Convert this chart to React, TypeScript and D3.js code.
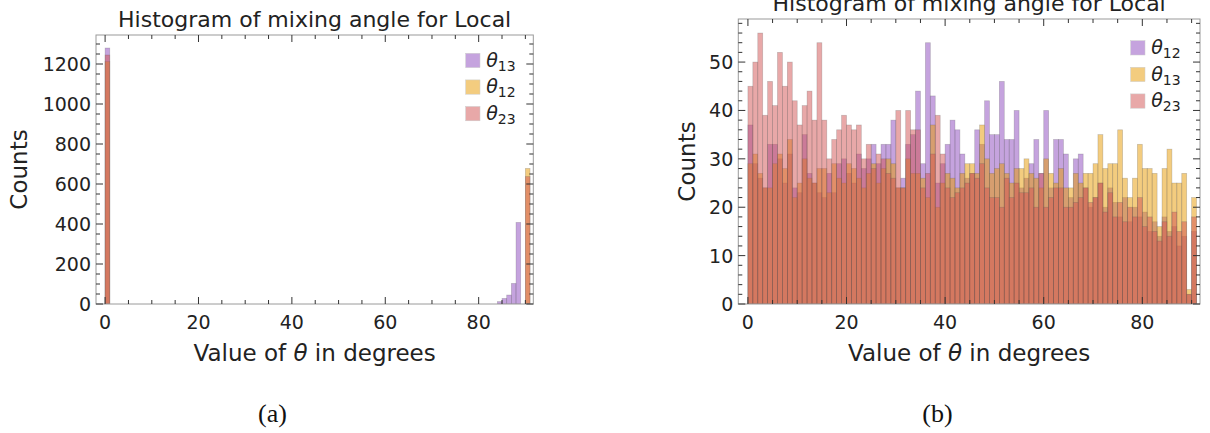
import React from "react";
import * as d3 from "d3";

// ---------- data ----------
const BIN_STARTS = d3.range(0, 91); // histogram bins [k, k+1) degrees

// (a) left chart: sparse bins
const leftTheta13Bins = [0, 84, 85, 86, 87, 88];
const leftTheta13Counts = [1280, 12, 28, 45, 103, 408];
const leftTheta12Bins = [0, 90];
const leftTheta12Counts = [1212, 678];
const leftTheta23Bins = [0, 90];
const leftTheta23Counts = [1245, 637];

// (b) right chart: counts per bin 0..90
const rightTheta12 = [
  37, 29, 26, 24, 33, 33, 30, 25, 31, 24, 23, 35, 27, 25, 23,
  22, 27, 23, 29, 30, 27, 25, 31, 28, 30, 33, 29, 33, 33, 38,
  24, 26, 33, 35, 44, 29, 54, 43, 25, 29, 33, 38, 36, 31, 26, 27, 36, 33, 42, 35, 35, 46, 34, 34, 40, 24, 26, 29, 34, 27, 40,
  24, 34, 34, 31, 22, 30, 31, 24, 20, 22, 25, 20, 24, 21, 18, 22, 17, 20, 18, 19, 15, 17, 14, 18, 15, 16, 12, 14, 2, 15,
];
const rightTheta13 = [
  29, 31, 27, 24, 24, 29, 31, 28, 34, 22, 25, 30, 26, 25, 28,
  28, 23, 29, 26, 25, 29, 28, 26, 24, 27, 29, 25, 28, 30, 29,
  24, 24, 30, 27, 27, 26, 22, 37, 20, 25, 27, 26, 24, 27, 29, 29, 27, 37, 30, 27, 28, 29, 27, 25, 28, 28, 30, 27, 26, 24, 30,
  27, 25, 28, 24, 24, 27, 25, 27, 27, 29, 35, 28, 29, 29, 36, 26, 22, 26, 33, 28, 28, 27, 16, 28, 32, 25, 25, 27, 3, 22,
];
const rightTheta23 = [
  45, 50, 56, 39, 46, 41, 52, 45, 50, 42, 37, 41, 44, 38, 54,
  38, 30, 34, 36, 39, 37, 36, 37, 30, 33, 28, 31, 30, 27, 26,
  40, 24, 40, 36, 36, 24, 27, 31, 39, 31, 24, 22, 23, 24, 25, 27, 26, 29, 24, 22, 22, 20, 26, 22, 25, 23, 23, 24, 20, 27, 20,
  22, 24, 24, 20, 20, 21, 22, 24, 21, 22, 25, 19, 23, 18, 21, 17, 20, 18, 22, 16, 18, 15, 13, 17, 14, 19, 15, 17, 2, 18,
];

const leftLabels = ["13", "12", "23"];
const rightLabels = ["12", "13", "23"];
const xTicks = [0, 20, 40, 60, 80];
const leftYTicks = [0, 200, 400, 600, 800, 1000, 1200];
const rightYTicks = [0, 10, 20, 30, 40, 50];

// ---------- styles ----------
const COLORS = ["#8b47bd", "#e79900", "#d15151"];
const FILL_OPACITY = 0.5;
const FONT = "'DejaVu Sans', sans-serif";
const TEXT = "#222";

function sparseToDense(bins: number[], counts: number[]) {
  const m = new Map<number, number>();
  bins.forEach((b, i) => m.set(b, counts[i]));
  return BIN_STARTS.map((b) => m.get(b) ?? 0);
}

type PanelProps = {
  left: number;
  right: number;
  top: number;
  bottom: number;
  yMax: number;
  yTicks: number[];
  yMinorStep: number;
  series: number[][];
  labels: string[];
  legendX: number;
  legendY: number;
  titleY: number;
  countsX: number;
  clipId: string;
};

function Panel(p: PanelProps) {
  const x = d3.scaleLinear().domain([-1.95, 91.7]).range([p.left, p.right]);
  const y = d3.scaleLinear().domain([0, p.yMax]).range([p.bottom, p.top]);
  const xMinor = d3.range(0, 91, 5);
  const yMinor = d3.range(0, p.yMax, p.yMinorStep);
  const MAJ = 7;
  const MIN = 4;
  const tickColor = "#333";
  const cx = (p.left + p.right) / 2;
  const cy = (p.top + p.bottom) / 2;
  return (
    <g>
      <clipPath id={p.clipId}>
        <rect x={p.left} y={p.top} width={p.right - p.left} height={p.bottom - p.top} />
      </clipPath>
      <g clipPath={`url(#${p.clipId})`}>
        {p.series.map((vals, si) => (
          <g key={si}>
            {BIN_STARTS.map((b, i) =>
              vals[i] > 0 ? (
                <rect
                  key={i}
                  x={x(b)}
                  y={y(vals[i])}
                  width={x(b + 1) - x(b)}
                  height={y(0) - y(vals[i])}
                  fill={COLORS[si]}
                  fillOpacity={FILL_OPACITY}
                  stroke="#5a5a5a"
                  strokeOpacity={0.3}
                  strokeWidth={0.7}
                />
              ) : null
            )}
          </g>
        ))}
      </g>
      {/* frame */}
      <rect
        x={p.left}
        y={p.top}
        width={p.right - p.left}
        height={p.bottom - p.top}
        fill="none"
        stroke="#9a9a9a"
        strokeWidth={1}
      />
      {xMinor.map((t) => {
        const len = t % 20 === 0 ? MAJ : MIN;
        return (
          <g key={"x" + t} stroke={tickColor} strokeWidth={1}>
            <line x1={x(t)} x2={x(t)} y1={p.bottom} y2={p.bottom - len} />
            <line x1={x(t)} x2={x(t)} y1={p.top} y2={p.top + len} />
          </g>
        );
      })}
      {yMinor.map((t) => {
        const major = p.yTicks.includes(t);
        const len = major ? MAJ : MIN;
        return (
          <g key={"y" + t} stroke={tickColor} strokeWidth={1}>
            <line x1={p.left} x2={p.left + len} y1={y(t)} y2={y(t)} />
            <line x1={p.right} x2={p.right - len} y1={y(t)} y2={y(t)} />
          </g>
        );
      })}
      {xTicks.map((t) => (
        <text key={"xl" + t} x={x(t)} y={p.bottom + 24.5} textAnchor="middle" fontSize={19} fill={TEXT} fontFamily={FONT}>
          {t}
        </text>
      ))}
      {p.yTicks.map((t) => (
        <text key={"yl" + t} x={p.left - 5} y={y(t) + 7} textAnchor="end" fontSize={19} fill={TEXT} fontFamily={FONT}>
          {t}
        </text>
      ))}
      <text x={cx} y={361} textAnchor="middle" fontSize={23} fill={TEXT} fontFamily={FONT}>
        Value of <tspan fontStyle="italic">θ</tspan> in degrees
      </text>
      <text
        transform={`translate(${p.countsX},${cy}) rotate(-90)`}
        textAnchor="middle"
        fontSize={23}
        fill={TEXT}
        fontFamily={FONT}
        dominantBaseline="central"
      >
        Counts
      </text>
      <text x={cx} y={p.titleY} textAnchor="middle" fontSize={22} fill={TEXT} fontFamily={FONT}>
        Histogram of mixing angle for Local
      </text>
      {p.labels.map((lab, i) => {
        const ry = p.legendY + i * 26.6;
        return (
          <g key={"lg" + i}>
            <rect x={p.legendX} y={ry - 7.2} width={14.3} height={14.3} fill={COLORS[i]} fillOpacity={FILL_OPACITY} stroke="#ccc" strokeWidth={0.5} />
            <text x={p.legendX + 20.5} y={ry + 6} fontSize={19} fill={TEXT} fontFamily={FONT}>
              <tspan fontStyle="italic">θ</tspan>
              <tspan fontSize={14} dy={4}>{lab}</tspan>
            </text>
          </g>
        );
      })}
    </g>
  );
}

export default function App() {
  const leftSeries = [
    sparseToDense(leftTheta13Bins, leftTheta13Counts),
    sparseToDense(leftTheta12Bins, leftTheta12Counts),
    sparseToDense(leftTheta23Bins, leftTheta23Counts),
  ];
  const rightSeries = [rightTheta12, rightTheta13, rightTheta23];
  return (
    <svg width={1210} height={433} style={{ position: "absolute", left: 0, top: 0, background: "#fff" }}>
      <rect x={0} y={0} width={1210} height={433} fill="#fff" />
      <Panel
        left={96}
        right={533.3}
        top={35}
        bottom={304}
        yMax={1345}
        yTicks={leftYTicks}
        yMinorStep={50}
        series={leftSeries}
        labels={leftLabels}
        legendX={465.7}
        legendY={60.5}
        titleY={26.5}
        countsX={18.5}
        clipId="clipA"
      />
      <Panel
        left={738.3}
        right={1200}
        top={19}
        bottom={304}
        yMax={58.9}
        yTicks={rightYTicks}
        yMinorStep={2}
        series={rightSeries}
        labels={rightLabels}
        legendX={1130.7}
        legendY={47.9}
        titleY={10.5}
        countsX={686.5}
        clipId="clipB"
      />
      <text x={272.5} y={422} textAnchor="middle" fontSize={26} fontFamily="'Liberation Serif', serif" fill="#111">
        (a)
      </text>
      <text x={937.5} y={422} textAnchor="middle" fontSize={26} fontFamily="'Liberation Serif', serif" fill="#111">
        (b)
      </text>
    </svg>
  );
}
